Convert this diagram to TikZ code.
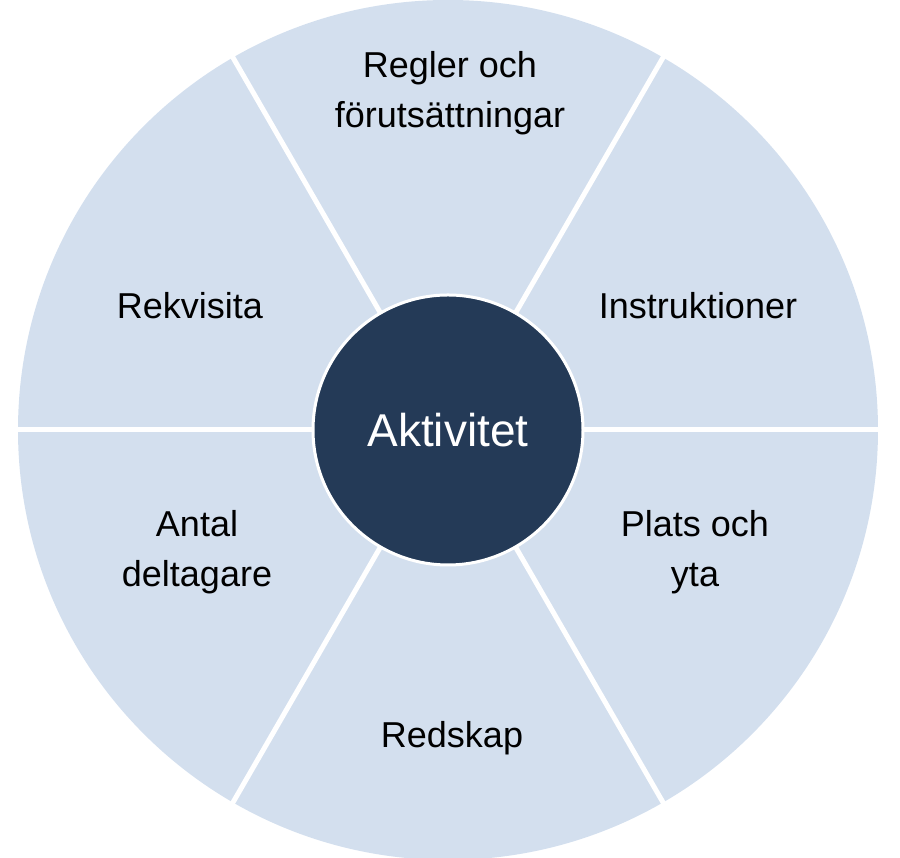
\documentclass[tikz,border=0pt]{standalone}
\usepackage{fontspec}
\setmainfont{Liberation Sans}
\definecolor{lightb}{HTML}{D3DFEE}
\definecolor{darkb}{HTML}{243A57}
\begin{document}
\begin{tikzpicture}[x=1pt,y=1pt,
  lab/.style={font=\fontsize{36}{50}\selectfont, align=center, text=black},
  sep/.style={draw=white, line width=5pt}]
\useasboundingbox (0,0) rectangle (900,858);
\coordinate (c) at (448,428);
\fill[lightb] (c) circle (430);
\foreach \a in {0,60,120,180,240,300}
  \draw[sep] (c) -- ++(\a:440);
\node[circle, fill=darkb, draw=white, line width=3pt, minimum size=270pt, text=white, font=\fontsize{46}{50}\selectfont] (center) at (c) {Aktivitet};
\node[lab] (r1) at (450,765) {Regler och\\förutsättningar};
\node[lab] (r2) at (698,552) {Instruktioner};
\node[lab] (r3) at (695,306) {Plats och\\yta};
\node[lab] (r4) at (452,120) {Redskap};
\node[lab] (r5) at (197,306) {Antal\\deltagare};
\node[lab] (r6) at (190,552) {Rekvisita};
\end{tikzpicture}
\end{document}
